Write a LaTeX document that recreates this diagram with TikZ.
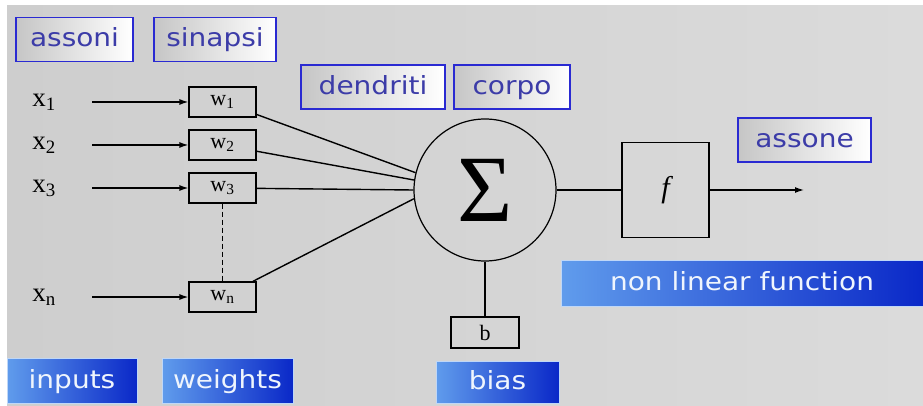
\documentclass[tikz,border=0pt]{standalone}
\usepackage{fontspec}
\setmainfont{Liberation Serif}
\newfontfamily\lblfont[FakeStretch=1.12]{DejaVu Sans}
\usetikzlibrary{arrows.meta}

\definecolor{bgleft}{RGB}{206,206,206}
\definecolor{bgright}{RGB}{219,219,219}
\definecolor{lbltext}{RGB}{60,60,168}
\definecolor{lbledge}{RGB}{42,42,210}
\definecolor{deepblue}{RGB}{10,40,200}
\definecolor{midblue}{RGB}{34,84,216}
\definecolor{skyblue}{RGB}{96,156,236}

\tikzset{
  namebox/.style={draw=lbledge, line width=1.3pt, left color=gray!45, right color=white,
    text=lbltext, font=\lblfont\fontsize{25}{25}\selectfont, minimum height=44pt, inner sep=0pt,
    text height=19pt, text depth=4pt},
  rolebox/.style={draw=white!60!skyblue, line width=0.8pt, left color=skyblue, middle color=midblue,
    right color=deepblue, text=white!90!skyblue, font=\lblfont\fontsize{25}{25}\selectfont,
    minimum height=44pt, inner sep=0pt, text height=19pt, text depth=4pt},
  wbox/.style={draw, line width=1.2pt, minimum width=67pt, minimum height=30pt, inner sep=0pt,
    font=\fontsize{22}{22}\selectfont},
  link/.style={line width=1.4pt},
  feed/.style={line width=1.3pt, -{Latex[length=9pt,width=6pt]}}
}

\begin{document}
\begin{tikzpicture}[x=1pt, y=-1pt]
  \useasboundingbox (0,0) rectangle (923,406);
  \fill[white] (0,0) rectangle (923,406);
  \fill[left color=bgleft, right color=bgright] (7,6) rectangle (923,406);

  % labels
  \node[namebox, minimum width=117pt] (assoni) at (74.5,39.5) {assoni};
  \node[namebox, minimum width=122pt] (sinapsi) at (215,39.5) {sinapsi};
  \node[namebox, minimum width=144pt] (dendriti) at (373,87) {dendriti};
  \node[namebox, minimum width=116pt] (corpo) at (512,87) {corpo};
  \node[namebox, minimum width=133pt] (assone) at (804.5,140) {assone};
  \node[rolebox, minimum width=130pt, minimum height=45pt] (inputs) at (72,380.5) {inputs};
  \node[rolebox, minimum width=131pt, minimum height=45pt] (weights) at (227.5,380.5) {weights};
  \node[rolebox, minimum width=123pt, minimum height=42pt] (bias) at (497.5,382) {bias};
  \node[rolebox, minimum width=362pt, minimum height=46pt] (nonlin) at (742,283) {non linear function};

  % neuron
  \node[draw, circle, line width=1.2pt, minimum size=142pt, inner sep=0pt] (sum) at (485,190)
    {\fontsize{95}{95}\selectfont Σ};
  \node[draw, line width=1.2pt, minimum width=87pt, minimum height=95pt] (f) at (665.5,190)
    {\fontsize{30}{30}\selectfont\itshape f};
  \node[wbox, minimum width=68pt, minimum height=31pt] (b) at (485,332.5) {b};

  \foreach \n/\y/\ang in {1/102/166, 2/145/172, 3/188/180, n/297/187} {
    \node[font=\fontsize{27}{27}\selectfont] (x\n) at (44,\y) {x$_{\mathrm{\n}}$};
    \coordinate (s\n) at (92,\y);
    \node[wbox] (w\n) at (222.5,\y) {w$_{\mathrm{\n}}$};
    \draw[feed] (s\n) -- (w\n);
    \draw[link] (w\n) -- (sum.\ang);
  }
  \draw[link, dash pattern=on 5pt off 3pt] (w3) -- (wn);

  \coordinate (out) at (804,190);
  \draw[link] (sum) -- (f);
  \draw[feed] (f) -- (out);
  \draw[link] (sum) -- (b);
\end{tikzpicture}
\end{document}
